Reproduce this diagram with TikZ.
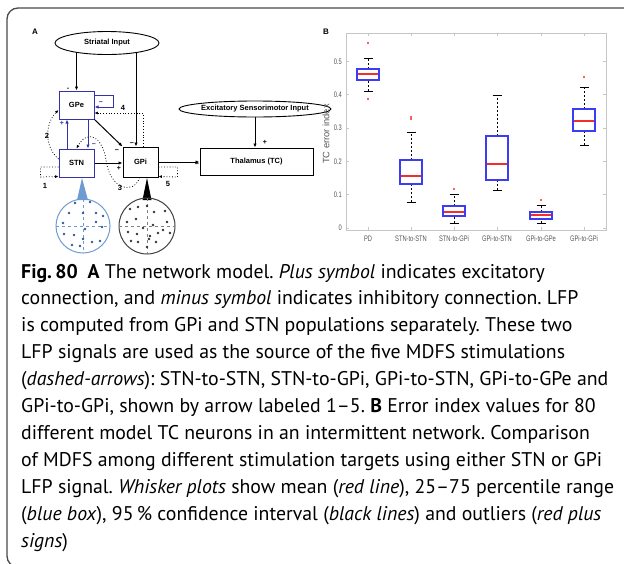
\documentclass[tikz,border=0pt]{standalone}
\usepackage{fontspec}
\setmainfont{PT Sans}
\newfontfamily\figfont{Liberation Sans}
\newfontfamily\axfont[FakeStretch=0.72]{Liberation Sans}
\usetikzlibrary{positioning, arrows.meta, calc, shapes.geometric}
\definecolor{nucblue}{HTML}{3434A8}
\definecolor{popblue}{HTML}{6E9CD2}
\definecolor{dotblue}{HTML}{2D5795}
\definecolor{boxblue}{HTML}{3C3CF2}
\definecolor{medred}{HTML}{F02E2E}
\definecolor{framegray}{HTML}{4A4A4A}
\definecolor{axgray}{HTML}{C6C6C6}
\definecolor{ticktext}{HTML}{555555}
\frenchspacing

\begin{document}
\begin{tikzpicture}[x=1pt, y=-1pt,
    every node/.style={inner sep=0pt},
    lbl/.style={font=\figfont\bfseries\fontsize{7.5}{9}\selectfont},
    nucbox/.style={draw, line width=1pt, minimum width=35, minimum height=28, lbl},
    inputell/.style={draw, ellipse, line width=0.9pt, lbl},
    conn/.style={line width=1pt, -{Latex[length=4pt,width=3.4pt]}},
    stim/.style={line width=0.8pt, dotted, -{Latex[length=3.4pt,width=3pt]}},
    sgn/.style={font=\figfont\bfseries\fontsize{7}{8}\selectfont},
    captext/.style={anchor=base west, font=\fontsize{19.8}{24}\selectfont},
    ticklbl/.style={font=\axfont\fontsize{8}{9}\selectfont, text=ticktext}]
  \useasboundingbox (0,0) rectangle (624,563);
  \clip (0,0) rectangle (624,563);
  \draw[framegray, line width=1.3pt, rounded corners=11pt]
    (640,8) -- (7,8) -- (7,567) -- (640,567);

  % panel A
  \node[lbl, font=\figfont\bfseries\fontsize{8}{9}\selectfont] (alabel) at (35,32) {A};
  \node[inputell, minimum width=104, minimum height=23] (striatal) at (107,43) {Striatal Input};
  \node[inputell, minimum width=121, minimum height=16] (sensory) at (255,109) {Excitatory Sensorimotor Input};
  \node[nucbox, draw=nucblue] (gpe) at (76.5,105) {GPe};
  \node[nucbox, draw=nucblue] (stn) at (76.5,163) {STN};
  \node[nucbox, minimum height=30] (gpi) at (140.5,162) {GPi};
  \node[nucbox, minimum width=113, minimum height=27] (thal) at (256.5,161.5) {Thalamus (TC)};

  \draw[conn] (gpe.north |- striatal.196) -- (gpe.north);
  \coordinate (gpiin) at ($(gpi.north)+(-4.5,0)$);
  \draw[conn] (gpiin |- striatal.342) -- (gpiin);
  \draw[conn, nucblue] ($(stn.north)+(-9.5,0)$) -- ($(gpe.south)+(-9.5,0)$);
  \draw[conn, nucblue] ($(gpe.south)+(11.5,0)$) -- ($(stn.north)+(11.5,0)$);
  \draw[conn, nucblue] ($(gpe.east)+(0,-10)$) -- ++(19,0) -- ++(0,12) -- ($(gpe.east)+(0,2)$);
  \draw[conn] (gpe.south east) -- (gpi.north west);
  \draw[conn] (stn.east) -- (stn.east -| gpi.west);
  \draw[conn] (gpi.east) -- (gpi.east -| thal.west);
  \draw[conn] (sensory.south) -- (sensory.south |- thal.north);

  \node[sgn] (s1) at (68,89) {-};
  \node[sgn] (s2) at (132,144) {−};
  \node[sgn, text=nucblue] (s3) at (101,103) {−};
  \node[sgn, text=nucblue] (s4) at (62,123) {+};
  \node[sgn, text=nucblue] (s5) at (94,145) {−};
  \node[sgn] (s6) at (117,151) {−};
  \node[sgn] (s7) at (119,168) {+};
  \node[sgn] (s8) at (197,165) {−};
  \node[sgn] (s9) at (265,142) {+};

  % stimulation paths
  \draw[stim] ($(stn.west)+(0,4)$) -- ++(-18,0) -- ++(0,10) -- ($(stn.south west)+(0,-1)$);
  \draw[stim] ($(stn.west)+(0,-4)$) .. controls +(-14,-12) and +(-14,14) .. ($(gpe.west)+(0,5)$);
  \draw[stim] ($(gpi.south)+(-1,0)$) .. controls (134,195) and (110,190) .. (106,160)
    .. controls (103,138) and (88,128) .. (stn.north);
  \draw[stim] ($(gpi.north)+(2.5,0)$) |- ($(gpe.east)+(0,8)$);
  \draw[stim] ($(gpi.east)+(0,5)$) -- ++(19,0) -- ++(0,10) -- ($(gpi.south east)+(0,-1)$);
  \node[lbl] (n1) at (45,186) {1};
  \node[lbl] (n2) at (47,136) {2};
  \node[lbl] (n3) at (120,188) {3};
  \node[lbl] (n4) at (123,108) {4};
  \node[lbl] (n5) at (168,184) {5};

  % populations
  \fill[popblue] (82,178) -- (77,200) -- (88,200) -- cycle;
  \fill[black] (147,178) -- (142.5,200) -- (151.5,200) -- cycle;
  \draw[popblue, line width=1pt] (83,226) circle (27);
  \draw[popblue, dashed, line width=0.7pt] (56,226) -- (110,226) (83,199) -- (83,253);
  \draw[black!75, line width=1pt] (147,226) circle (28);
  \draw[black!50, dashed, line width=0.7pt] (119,226) -- (175,226) (147,198) -- (147,254);
  \foreach \dx/\dy in {75/203, 90/202, 69/213, 83/213, 96/213, 103/216, 63/223, 96/222,
      85/229, 102/227, 64/234, 74/235, 83/239, 92/242, 100/241, 72/245, 80/246}
    \fill[dotblue] (\dx,\dy) circle (1.4pt);
  \foreach \dx/\dy in {130/209, 138/207, 147/206, 154/212, 165/211, 136/219, 127/222, 143/228,
      153/225, 167/222, 163/230, 128/232, 137/234, 150/236, 158/233, 170/233, 131/241,
      138/242, 149/239, 156/242, 147/247}
    \fill[black!80] (\dx,\dy) circle (1.4pt);

  % panel B
  \node[lbl, font=\figfont\bfseries\fontsize{8}{9}\selectfont] (blabel) at (326,32) {B};
  \begin{scope}[shift={(0,228)}, y=333.3pt]
    \draw[axgray, line width=0.7pt] (346,-0.006) rectangle (606,0.585);
    \foreach \v/\t in {0/0, 0.1/0.1, 0.2/0.2, 0.3/0.3, 0.4/0.4, 0.5/0.5} {
      \draw[axgray, line width=0.7pt] (346,\v) -- ++(3,0) (606,\v) -- ++(-3,0);
      \node[ticklbl, anchor=east] at (342,\v) {\t};
    }
    \foreach \px/\name in {368/PD, 411/STN-to-STN, 454/STN-to-GPi, 497/GPi-to-STN,
        541/GPi-to-GPe, 584/GPi-to-GPi} {
      \draw[axgray, line width=0.7pt] (\px,-0.006) -- ++(0,0.009) (\px,0.585) -- ++(0,-0.009);
      \node[ticklbl] at (\px,-0.033) {\name};
    }
    \node[font=\figfont\fontsize{9.3}{10}\selectfont, text=ticktext, rotate=90] (ytitle) at (326,0.282) {TC error index};
    \foreach \px/\lo/\qa/\md/\qb/\hi in {368/0.411/0.444/0.462/0.477/0.510,
        411/0.078/0.132/0.156/0.204/0.288, 454/0.015/0.036/0.048/0.066/0.102,
        497/0.114/0.144/0.192/0.276/0.399, 541/0.015/0.027/0.039/0.048/0.069,
        584/0.249/0.291/0.321/0.357/0.423} {
      \draw[black, line width=0.9pt, dash pattern=on 2.5pt off 1.5pt] (\px,\lo) -- (\px,\qa) (\px,\qb) -- (\px,\hi);
      \draw[black, line width=0.9pt] (\px-4.5,\lo) -- (\px+4.5,\lo) (\px-4.5,\hi) -- (\px+4.5,\hi);
      \draw[boxblue, line width=1.3pt] (\px-11,\qa) rectangle (\px+11,\qb);
      \draw[medred, line width=1.2pt] (\px-10.4,\md) -- (\px+10.4,\md);
    }
    \foreach \px/\v in {368/0.555, 368/0.387, 411/0.333, 411/0.327, 454/0.117, 541/0.084, 584/0.453}
      \fill[medred] (\px,\v) circle (1.2pt);
  \end{scope}

  % caption
  \node[captext] (cap1) at (21,278) {\textbf{Fig.\,80}\hspace{0.5em}\textbf{A} The network model. \textit{Plus symbol} indicates excitatory};
  \node[captext] (cap2) at (21,304.9) {connection, and \textit{minus symbol} indicates inhibitory connection. LFP};
  \node[captext] (cap3) at (21,331.8) {is computed from GPi and STN populations separately. These two};
  \node[captext] (cap4) at (21,358.7) {LFP signals are used as the source of the five MDFS stimulations};
  \node[captext] (cap5) at (21,385.6) {(\textit{dashed-arrows}): STN-to-STN, STN-to-GPi, GPi-to-STN, GPi-to-GPe and};
  \node[captext] (cap6) at (21,412.5) {GPi-to-GPi, shown by arrow labeled 1–5. \textbf{B} Error index values for 80};
  \node[captext] (cap7) at (21,439.4) {different model TC neurons in an intermittent network. Comparison};
  \node[captext] (cap8) at (21,466.3) {of MDFS among different stimulation targets using either STN or GPi};
  \node[captext] (cap9) at (21,493.2) {LFP signal. \textit{Whisker plots} show mean (\textit{red line}), 25–75 percentile range};
  \node[captext] (cap10) at (21,520.1) {(\textit{blue box}), 95\,\% confidence interval (\textit{black lines}) and outliers (\textit{red plus}};
  \node[captext] (cap11) at (21,547) {\textit{signs})};
\end{tikzpicture}
\end{document}
